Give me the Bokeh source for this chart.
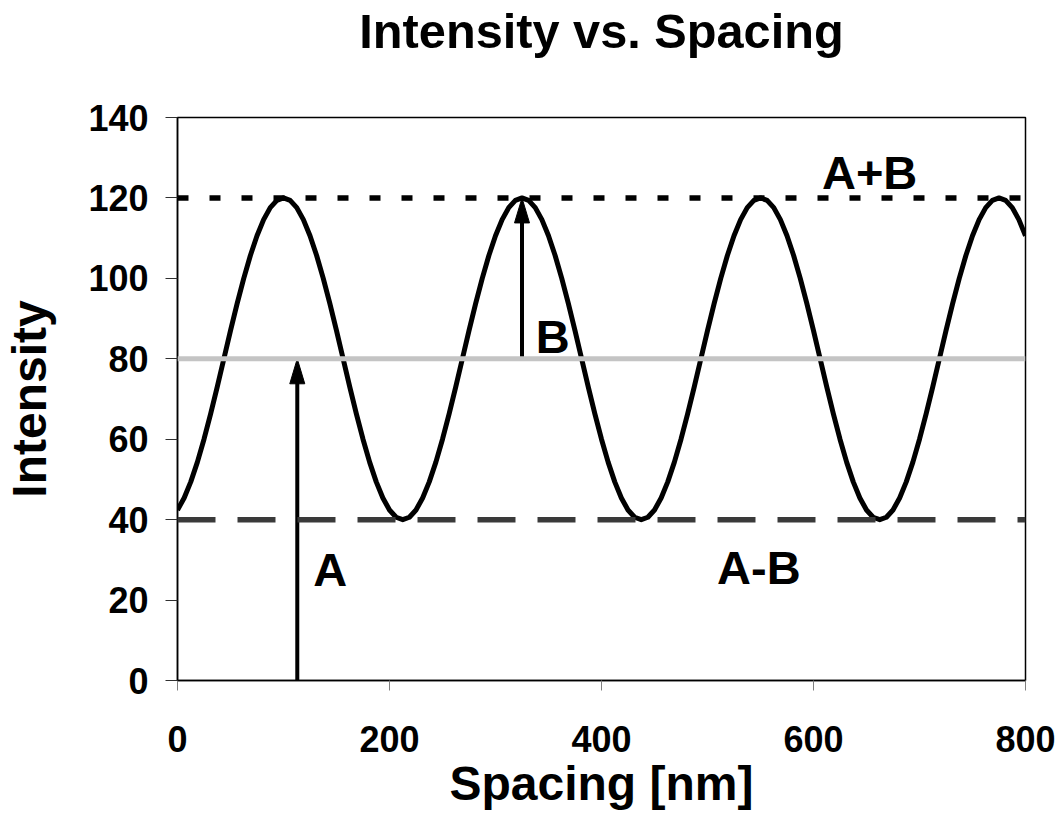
from bokeh.plotting import figure
from bokeh.models import Range1d, FixedTicker, ColumnDataSource, Span, Title
from bokeh.core.properties import value
from bokeh.embed import file_html
from bokeh.resources import INLINE

FONT = "Liberation Sans"

# ---- data ----
spacing_nm = [
    0, 6.25, 12.5, 18.75, 25, 31.25, 37.5, 43.75, 50, 56.25, 62.5, 68.75, 75, 81.25, 87.5, 93.75,
    100, 106.25, 112.5, 118.75, 125, 131.25, 137.5, 143.75, 150, 156.25, 162.5, 168.75, 175, 181.25, 187.5, 193.75,
    200, 206.25, 212.5, 218.75, 225, 231.25, 237.5, 243.75, 250, 256.25, 262.5, 268.75, 275, 281.25, 287.5, 293.75,
    300, 306.25, 312.5, 318.75, 325, 331.25, 337.5, 343.75, 350, 356.25, 362.5, 368.75, 375, 381.25, 387.5, 393.75,
    400, 406.25, 412.5, 418.75, 425, 431.25, 437.5, 443.75, 450, 456.25, 462.5, 468.75, 475, 481.25, 487.5, 493.75,
    500, 506.25, 512.5, 518.75, 525, 531.25, 537.5, 543.75, 550, 556.25, 562.5, 568.75, 575, 581.25, 587.5, 593.75,
    600, 606.25, 612.5, 618.75, 625, 631.25, 637.5, 643.75, 650, 656.25, 662.5, 668.75, 675, 681.25, 687.5, 693.75,
    700, 706.25, 712.5, 718.75, 725, 731.25, 737.5, 743.75, 750, 756.25, 762.5, 768.75, 775, 781.25, 787.5, 793.75,
    800,
]

intensity = [
    42.4, 45.4, 49.4, 54.3, 60.0, 66.3, 73.0, 80.0, 87.0, 93.7, 100.0, 105.7, 110.6, 114.6, 117.6, 119.4,
    120.0, 119.4, 117.6, 114.6, 110.6, 105.7, 100.0, 93.7, 87.0, 80.0, 73.0, 66.3, 60.0, 54.3, 49.4, 45.4, 42.4, 40.6,
    40.0, 40.6, 42.4, 45.4, 49.4, 54.3, 60.0, 66.3, 73.0, 80.0, 87.0, 93.7, 100.0, 105.7, 110.6, 114.6, 117.6, 119.4,
    120.0, 119.4, 117.6, 114.6, 110.6, 105.7, 100.0, 93.7, 87.0, 80.0, 73.0, 66.3, 60.0, 54.3, 49.4, 45.4, 42.4, 40.6,
    40.0, 40.6, 42.4, 45.4, 49.4, 54.3, 60.0, 66.3, 73.0, 80.0, 87.0, 93.7, 100.0, 105.7, 110.6, 114.6, 117.6, 119.4,
    120.0, 119.4, 117.6, 114.6, 110.6, 105.7, 100.0, 93.7, 87.0, 80.0, 73.0, 66.3, 60.0, 54.3, 49.4, 45.4, 42.4, 40.6,
    40.0, 40.6, 42.4, 45.4, 49.4, 54.3, 60.0, 66.3, 73.0, 80.0, 87.0, 93.7, 100.0, 105.7, 110.6, 114.6, 117.6, 119.4,
    120.0, 119.4, 117.6, 114.6, 110.6,
]

level_names = ["A+B", "A", "A-B"]
level_values = [120, 80, 40]

arrow_names = ["A", "B"]
arrow_x = [113, 325]
arrow_start = [0, 80]
arrow_end = [80, 120]

label_text = ["A", "B", "A+B", "A-B"]
label_x = [128, 338, 608, 509]
label_y = [27.5, 85.5, 126.4, 28.2]

x_ticks = [0, 200, 400, 600, 800]
y_ticks = [0, 20, 40, 60, 80, 100, 120, 140]

# ---- figure ----
W, H = 1060, 821
ML, MR, MT, MB = 177, 35, 117, 141

p = figure(width=W, height=H, x_range=Range1d(0, 800), y_range=Range1d(0, 140),
           output_backend="svg", toolbar_location=None,
           min_border_left=ML, min_border_right=MR, min_border_top=MT, min_border_bottom=MB)
p.title_location = None

# spacer (closest to the frame), then the visible title above it
p.add_layout(Title(text=" ", text_font_size="1px", standoff=57), "above")
p.add_layout(Title(text="Intensity vs. Spacing", align="center", text_font=FONT,
                   text_font_size="48.7px", text_font_style="bold", text_color="black",
                   standoff=0), "above")

p.grid.visible = False
p.background_fill_color = "white"
p.border_fill_color = "white"
p.outline_line_color = "black"
p.outline_line_width = 1.5

# level lines
styles = {
    120: dict(line_color="black", line_width=5.5, line_dash="11 21"),
    80: dict(line_color="#c4c4c4", line_width=5, line_dash="solid"),
    40: dict(line_color="#3a3a3a", line_width=5.5, line_dash="38 22"),
}
for lv in level_values:
    p.add_layout(Span(location=lv, dimension="width", **styles[lv]))

# curve
p.line(spacing_nm, intensity, line_color="black", line_width=5, line_join="round")

# arrows
frame_w = W - ML - MR
frame_h = H - MT - MB
px_x = frame_w / 800.0
px_y = frame_h / 140.0
head_w = 15 / px_x
head_l = 25 / px_y

for ax, a0, a1 in zip(arrow_x, arrow_start, arrow_end):
    p.segment(x0=[ax], y0=[a0], x1=[ax], y1=[a1 - head_l * 0.8],
              line_color="black", line_width=4)
    p.patch([ax - head_w / 2, ax, ax + head_w / 2], [a1 - head_l, a1, a1 - head_l],
            fill_color="black", line_color="black", line_width=1)

# labels
src = ColumnDataSource(dict(x=label_x, y=label_y, t=label_text))
p.text(x="x", y="y", text="t", source=src, text_font=value(FONT), text_font_size="47px",
       text_font_style="bold", text_color="black", text_align="left", text_baseline="alphabetic")

# axes
for ax_ in (p.xaxis[0], p.yaxis[0]):
    ax_.axis_line_color = "black"
    ax_.axis_line_width = 1.5
    ax_.major_tick_in = 0
    ax_.minor_tick_line_color = None
    ax_.major_label_text_font = FONT
    ax_.major_label_text_font_size = "36px"
    ax_.major_label_text_font_style = "bold"
    ax_.major_label_text_color = "black"
    ax_.axis_label_text_font = FONT
    ax_.axis_label_text_font_size = "48px"
    ax_.axis_label_text_font_style = "bold"
    ax_.axis_label_text_color = "black"

p.xaxis.ticker = FixedTicker(ticks=x_ticks)
p.yaxis.ticker = FixedTicker(ticks=y_ticks)
p.xaxis.axis_label = "Spacing [nm]"
p.yaxis.axis_label = "Intensity"
p.xaxis.major_tick_out = 10
p.xaxis.major_tick_line_color = "#808080"
p.xaxis.major_label_standoff = 35
p.xaxis.axis_label_standoff = 2
p.yaxis.major_tick_out = 12
p.yaxis.major_tick_line_color = "#303030"
p.yaxis.major_label_standoff = 17
p.yaxis.axis_label_standoff = 29

open("out.html", "w").write(file_html(p, INLINE))
